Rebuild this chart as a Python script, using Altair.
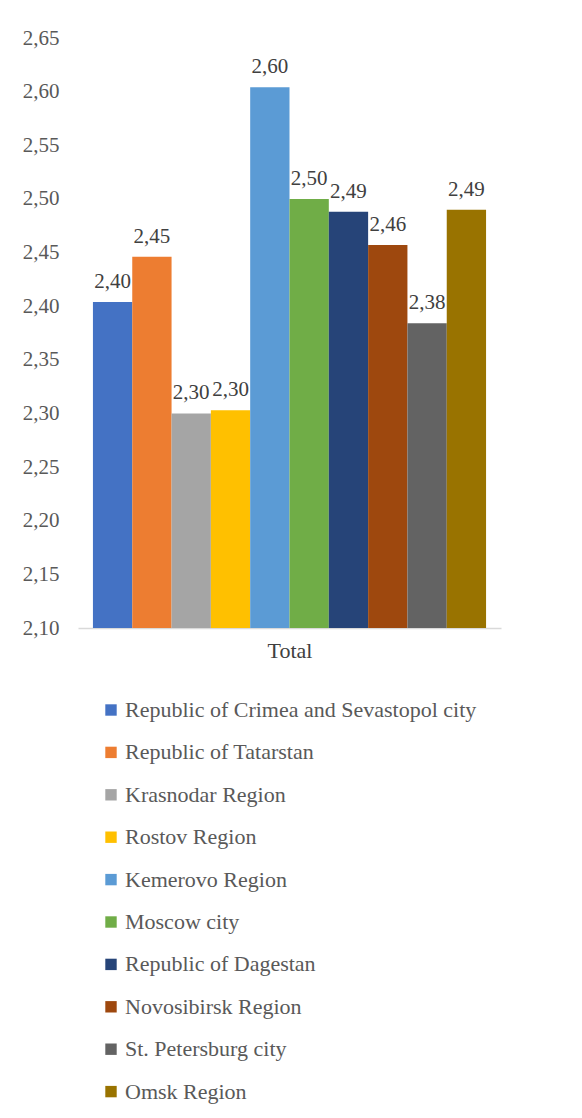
import altair as alt
import pandas as pd

regions = [
    "Republic of Crimea and Sevastopol city",
    "Republic of Tatarstan",
    "Krasnodar Region",
    "Rostov Region",
    "Kemerovo Region",
    "Moscow city",
    "Republic of Dagestan",
    "Novosibirsk Region",
    "St. Petersburg city",
    "Omsk Region",
]
values = [2.404, 2.446, 2.300, 2.303, 2.604, 2.500, 2.488, 2.457, 2.384, 2.490]
colors = ["#4472C4", "#ED7D31", "#A5A5A5", "#FFC000", "#5B9BD5",
          "#70AD47", "#264478", "#9E480E", "#636363", "#997300"]
y_ticks = [2.10, 2.15, 2.20, 2.25, 2.30, 2.35, 2.40, 2.45, 2.50, 2.55, 2.60, 2.65]

df = pd.DataFrame({"region": regions, "value": values})

FONT = "Liberation Serif, Times New Roman, serif"
FS = 21

x = alt.X("region:N", sort=regions, title="Total",
          scale=alt.Scale(paddingInner=0, paddingOuter=0.38),
          axis=alt.Axis(labels=False, ticks=False, domainColor="#d9d9d9",
                        domainWidth=1.5, titleFont=FONT, titleFontSize=22,
                        titleFontWeight="normal", titleColor="#404040",
                        titlePadding=12))
y = alt.Y("value:Q", title=None,
          scale=alt.Scale(domain=[2.10, 2.65], zero=False, nice=False),
          axis=alt.Axis(values=y_ticks, domain=False, ticks=False, grid=False,
                        labelExpr="replace(format(datum.value, '.2f'), '.', ',')",
                        labelFont=FONT, labelFontSize=FS, labelColor="#595959",
                        labelPadding=19))

color = alt.Color("region:N", sort=regions,
                  scale=alt.Scale(domain=regions, range=colors),
                  legend=alt.Legend(title=None, orient="none", legendX=22, legendY=661,
                                    direction="vertical", symbolType="square",
                                    symbolSize=130, symbolStrokeWidth=0,
                                    labelFont=FONT, labelFontSize=22,
                                    labelColor="#595959", labelLimit=500,
                                    rowPadding=20.4, labelOffset=3))

base = alt.Chart(df)

bars = base.mark_bar().encode(x=x, y=y, y2=alt.datum(2.10), color=color)

labels = base.transform_calculate(
    lab="replace(format(datum.value, '.2f'), '.', ',')"
).mark_text(font=FONT, fontSize=FS, color="#404040", baseline="alphabetic", dy=-14).encode(
    x=alt.X("region:N", sort=regions), y="value:Q", text="lab:N"
)

chart = alt.layer(bars, labels).properties(
    width=423, height=590,
    padding={"left": 14, "top": 19, "right": 5, "bottom": 5},
).configure(background="white").configure_view(strokeWidth=0, stroke="transparent")

chart.save("out.html", embed_options={"renderer": "svg", "actions": False})
